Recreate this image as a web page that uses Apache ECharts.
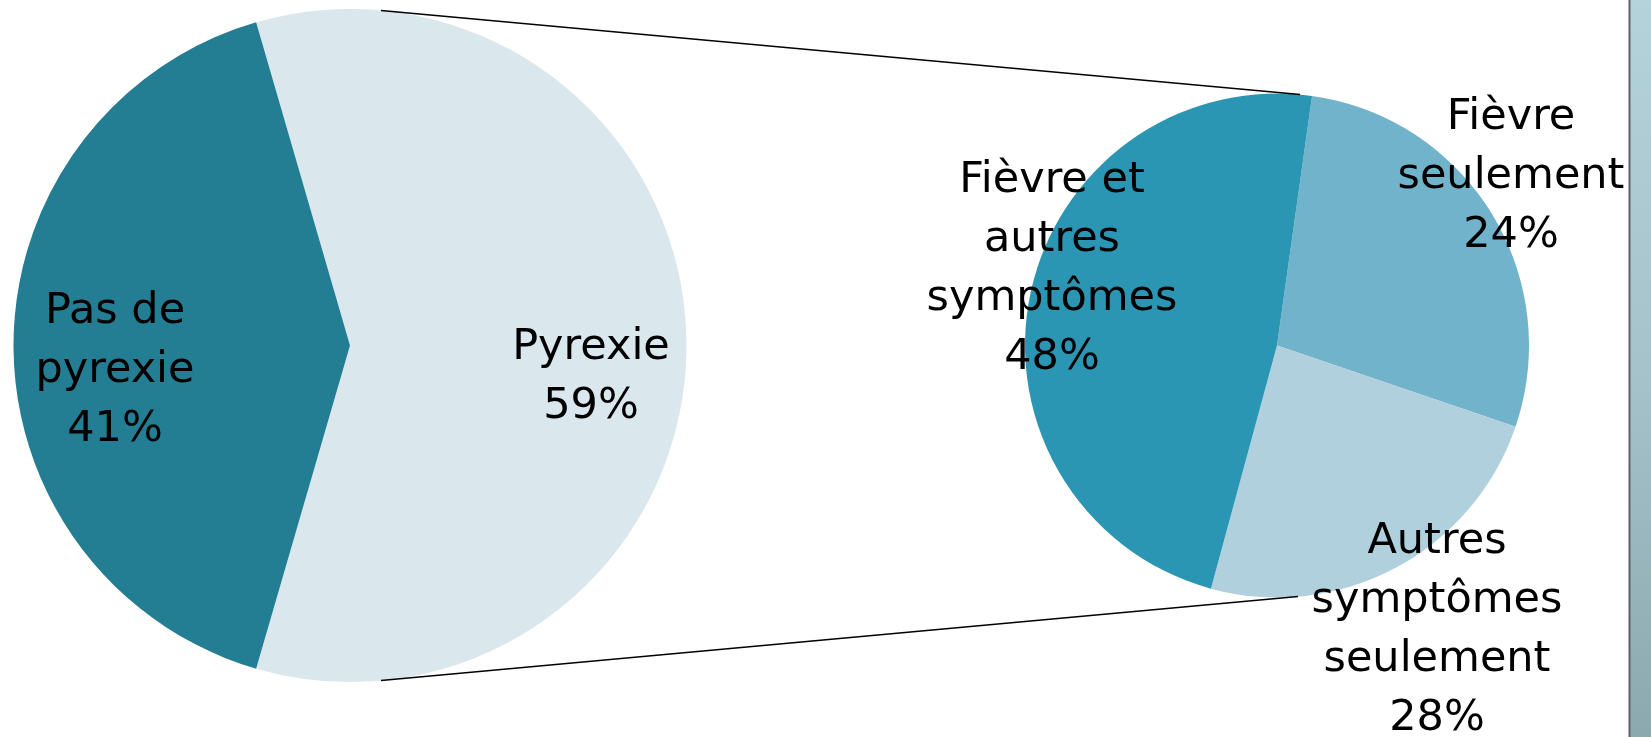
<!DOCTYPE html>
<html>
<head>
<meta charset="utf-8">
<script src="https://cdn.jsdelivr.net/npm/echarts@6/dist/echarts.min.js"></script>
<style>
  html, body { margin: 0; padding: 0; background: #ffffff; }
  #chart { width: 1651px; height: 737px; }
</style>
</head>
<body>
<div id="chart"></div>
<script>
// ---- Data ----
const leftNames  = ['Pyrexie', 'Pas de\npyrexie'];
const leftValues = [59, 41];

const rightNames  = ['Autres\nsymptômes\nseulement', 'Fièvre\nseulement', 'Fièvre et\nautres\nsymptômes'];
const rightValues = [28, 24, 48];

// ---- Styles / layout ----
const leftColors  = ['#DAE7ED', '#237D93'];
const rightColors = ['#71B3CB', '#B0D0DE', '#2A96B3'];

const leftCenter = [350, 345.5], leftR = 336.5;
const rightCenter = [1277, 345.5], rightR = 252;

const leftLabelPos  = [[591, 377], [115, 371]];
const rightLabelPos = [[1437, 630], [1511, 177], [1052, 269]];

const font = { fontFamily: 'DejaVu Sans', fontSize: 43, lineHeight: 59, color: '#000000', align: 'center' };

const leftTotal = leftValues.reduce((a, b) => a + b, 0);
const leftStart = 180 * leftValues[0] / leftTotal;

function mkData(names, values, colors) {
  return names.map((n, i) => ({ name: n, value: values[i], itemStyle: { color: colors[i] } }));
}

function layoutFn(posArr) {
  return function (p) {
    const pos = posArr[p.dataIndex];
    return { x: pos[0], y: pos[1], align: 'center', verticalAlign: 'middle', hideOverlap: false, moveOverlap: null };
  };
}

// connector endpoints derived from pie geometry
const lx = leftCenter[0] + 31, ly = Math.sqrt(leftR * leftR - 31 * 31);
const rx = rightCenter[0] + 23, ry = Math.sqrt(rightR * rightR - 23 * 23);

const chart = echarts.init(document.getElementById('chart'), null, { renderer: 'canvas' });
chart.setOption({
  animation: false,
  backgroundColor: '#ffffff',
  series: [
    {
      type: 'pie',
      center: leftCenter,
      radius: [0, leftR],
      startAngle: leftStart,
      clockwise: true,
      avoidLabelOverlap: false,
      itemStyle: { borderWidth: 0 },
      emphasis: { disabled: true },
      label: Object.assign({ show: true, position: 'inside', formatter: '{b}\n{c}%' }, font),
      labelLine: { show: false },
      labelLayout: layoutFn(leftLabelPos),
      data: mkData(leftNames, leftValues, leftColors)
    },
    {
      type: 'pie',
      center: rightCenter,
      radius: [0, rightR],
      startAngle: 82,
      clockwise: true,
      avoidLabelOverlap: false,
      itemStyle: { borderWidth: 0 },
      emphasis: { disabled: true },
      label: Object.assign({ show: true, position: 'inside', formatter: '{b}\n{c}%' }, font),
      labelLine: { show: false },
      labelLayout: layoutFn(rightLabelPos),
      data: mkData(rightNames, rightValues, rightColors)
    }
  ],
  graphic: [
    {
      type: 'line', z: 50,
      shape: { x1: lx, y1: leftCenter[1] - ly, x2: rx, y2: rightCenter[1] - ry },
      style: { stroke: '#000000', lineWidth: 1.5 }
    },
    {
      type: 'line', z: 50,
      shape: { x1: lx, y1: leftCenter[1] + ly, x2: rx - 2, y2: rightCenter[1] + ry },
      style: { stroke: '#000000', lineWidth: 1.5 }
    },
    {
      type: 'rect', z: 100,
      shape: { x: 1629, y: 0, width: 22, height: 737 },
      style: {
        fill: new echarts.graphic.LinearGradient(0, 0, 0, 1, [
          { offset: 0, color: '#B5D3DB' },
          { offset: 0.5, color: '#A6C2CA' },
          { offset: 1, color: '#8DA9B0' }
        ])
      }
    },
    {
      type: 'line', z: 101,
      shape: { x1: 1629.5, y1: 0, x2: 1629.5, y2: 737 },
      style: { stroke: '#5A6468', lineWidth: 2 }
    }
  ]
});
</script>
</body>
</html>
